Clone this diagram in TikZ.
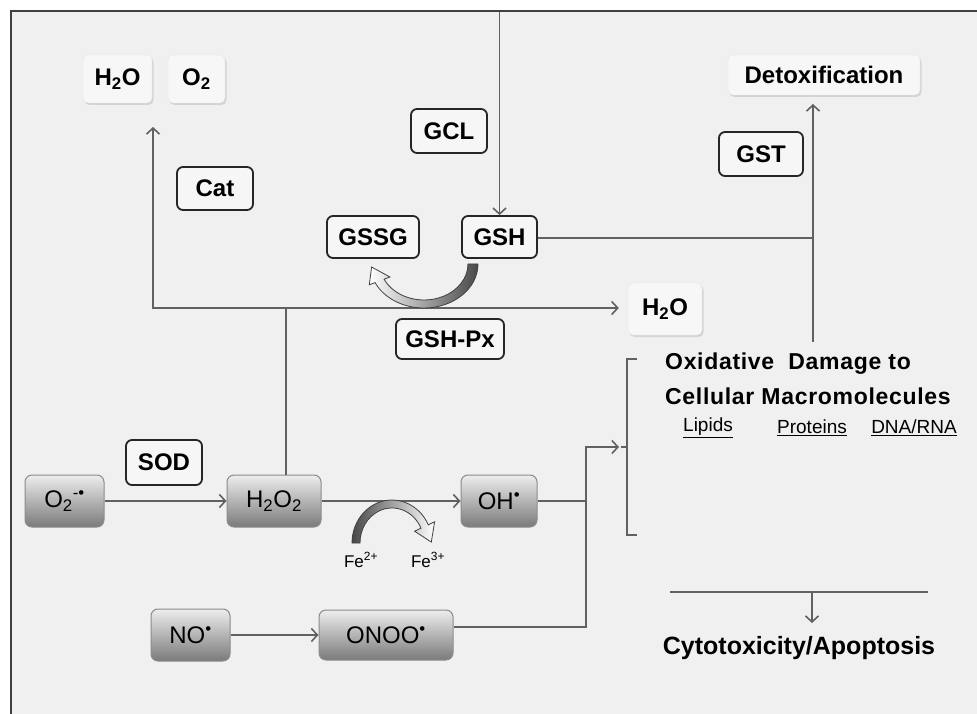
\documentclass[tikz,border=0pt]{standalone}
\usepackage{fontspec}
\setmainfont{Liberation Sans}
\usetikzlibrary{arrows.meta,shadows,calc}
\definecolor{bg}{HTML}{F0F0F0}
\definecolor{lightfill}{HTML}{F7F7F7}
\begin{document}
\begin{tikzpicture}[x=1pt,y=-1pt,
  conn/.style={draw=black!62, line width=1.5pt},
  arr/.style={conn, -{Straight Barb[length=6pt,width=13pt,line width=1.6pt]}},
  lbl/.style={font=\fontsize{24}{27}\selectfont\bfseries, inner sep=0pt},
  lightbox/.style={lbl, rounded corners=5pt, fill=lightfill, draw=black!10,
     drop shadow={shadow xshift=1.5pt,shadow yshift=-2pt,fill=black!30,opacity=.45}},
  encbox/.style={lbl, rounded corners=6pt, draw=black!85, line width=1.8pt, fill=white!40!bg},
  gradbox/.style={lbl, font=\fontsize{24}{27}\selectfont, rounded corners=7pt, draw=black!45, line width=1pt,
     top color=black!7, bottom color=black!52},
  bigtxt/.style={font=\fontsize{23}{26}\selectfont\bfseries, inner sep=0pt},
  smalltxt/.style={font=\fontsize{17}{20}\selectfont, inner sep=0pt},
  undtxt/.style={font=\fontsize{19}{21}\selectfont, inner sep=0pt},
]
\useasboundingbox (0,0) rectangle (977,714);
\fill[white] (0,0) rectangle (977,714);
\fill[bg] (11,11) rectangle (977,714);
\draw[line width=2pt, black!75] (11,714) -- (11,11) -- (977,11);

% light boxes
\node[lightbox, minimum width=69pt, minimum height=48pt] (h2oa) at (117.5,79) {H\textsubscript{2}O};
\node[lightbox, minimum width=57pt, minimum height=48pt] (o2) at (196.5,79) {O\textsubscript{2}};
\node[lightbox, minimum width=192pt, minimum height=40pt] (detox) at (824,75) {Detoxification};
\node[lightbox, minimum width=74pt, minimum height=52pt] (h2ob) at (665,309) {H\textsubscript{2}O};

% enzyme boxes
\node[encbox, minimum width=76pt, minimum height=43pt] (cat) at (215,188.5) {Cat};
\node[encbox, minimum width=76pt, minimum height=44pt] (gcl) at (449,131) {GCL};
\node[encbox, minimum width=92pt, minimum height=42pt] (gssg) at (373,237) {GSSG};
\node[encbox, minimum width=75pt, minimum height=42pt] (gsh) at (499.5,237) {GSH};
\node[encbox, minimum width=108pt, minimum height=40pt] (gshpx) at (450,339) {GSH-Px};
\node[encbox, minimum width=84pt, minimum height=44pt] (gst) at (761,154) {GST};
\node[encbox, minimum width=76pt, minimum height=45pt] (sod) at (164,462.5) {SOD};

% species boxes
\node[gradbox, minimum width=79pt, minimum height=52pt] (o2r) at (64.5,501) {O\textsubscript{2}\textsuperscript{-•}};
\node[gradbox, minimum width=94pt, minimum height=52pt] (h2o2) at (274,501) {H\textsubscript{2}O\textsubscript{2}};
\node[gradbox, minimum width=76pt, minimum height=52pt] (oh) at (499,501) {OH\textsuperscript{•}};
\node[gradbox, minimum width=79pt, minimum height=52pt] (no) at (190.5,635) {NO\textsuperscript{•}};
\node[gradbox, minimum width=134pt, minimum height=50pt] (onoo) at (386,635) {ONOO\textsuperscript{•}};

% texts
\node[bigtxt, anchor=west] (ox1) at (665,364) {\addfontfeature{LetterSpace=3}Oxidative\ \ Damage to};
\node[bigtxt, anchor=west] (ox2) at (665,396) {\addfontfeature{LetterSpace=3}Cellular Macromolecules};
\node[undtxt] (lip) at (708,428) {\underline{Lipids}};
\node[undtxt] (pro) at (812,428) {\underline{Proteins}};
\node[undtxt] (dna) at (914,428) {\underline{DNA/RNA}};
\node[bigtxt, font=\fontsize{25}{28}\selectfont\bfseries] (cyto) at (799,648) {Cytotoxicity/Apoptosis};
\node[smalltxt] (fe2) at (361,560) {Fe\textsuperscript{2+}};
\node[smalltxt] (fe3) at (428,560) {Fe\textsuperscript{3+}};

% coordinates
\coordinate (jn) at (153,308);
\coordinate (catTop) at (153,127);
\coordinate (jH) at (286,308);
\coordinate (gtop) at (499.5,12);
\coordinate (jd) at (813,238);
\coordinate (jdb) at (813,342);
\coordinate (dtip) at (813,104);
\coordinate (jo) at (586,501);
\coordinate (jx) at (586,627);
\coordinate (jy) at (586,447);
\coordinate (btip) at (619,447);
\coordinate (bt1) at (637,359);
\coordinate (bt2) at (627,359);
\coordinate (bb2) at (627,535);
\coordinate (bb1) at (637,535);
\coordinate (bm) at (621,447);
\coordinate (bmr) at (627,447);
\coordinate (cl) at (670,592);
\coordinate (cr) at (928,592);
\coordinate (cm) at (812,592);
\coordinate (ctip) at (812,623);

% connectors
\draw[conn] (h2o2.north -| jH) -- (jH);
\draw[arr] (jH) -- (jn) -- (catTop);
\draw[arr, shorten >=9pt] (jH) -- (h2ob.west |- jH);
\draw[arr] (gtop) -- (gsh.north);
\draw[conn] (gsh.east |- jd) -- (jd);
\draw[arr] (jdb) -- (dtip);
\draw[arr] (o2r.east) -- (h2o2.west);
\draw[arr] (h2o2.east) -- (oh.west);
\draw[conn] (oh.east) -- (jo);
\draw[arr] (no.east) -- (onoo.west);
\draw[arr] (onoo.east |- jx) -- (jx) -- (jy) -- (btip);
\draw[conn] (bt1) -- (bt2) -- (bb2) -- (bb1);
\draw[conn] (bmr) -- (bm);
\draw[conn] (cl) -- (cr);
\draw[arr] (cm) -- (ctip);

% GSH-Px curved arrow (GSH -> GSSG)
\path[draw=black!75, line width=0.8pt, left color=white, right color=black!72]
  (478,264) arc[start angle=0, end angle=155, x radius=54, y radius=44]
  -- (369.3,284.8) -- (371.6,267.0) -- (389.9,277.0) -- (384.1,279.2)
  arc[start angle=155, end angle=0, x radius=44, y radius=36] -- cycle;

% Fe curved arrow
\path[draw=black!75, line width=0.8pt, left color=black!72, right color=white]
  (360,543) -- (352,543)
  arc[start angle=180, end angle=335, x radius=40, y radius=43]
  -- (434.6,521.8) -- (431.3,542.1) -- (414.6,531.2) -- (421.0,528.2)
  arc[start angle=335, end angle=180, x radius=32, y radius=35] -- cycle;
\end{tikzpicture}
\end{document}
